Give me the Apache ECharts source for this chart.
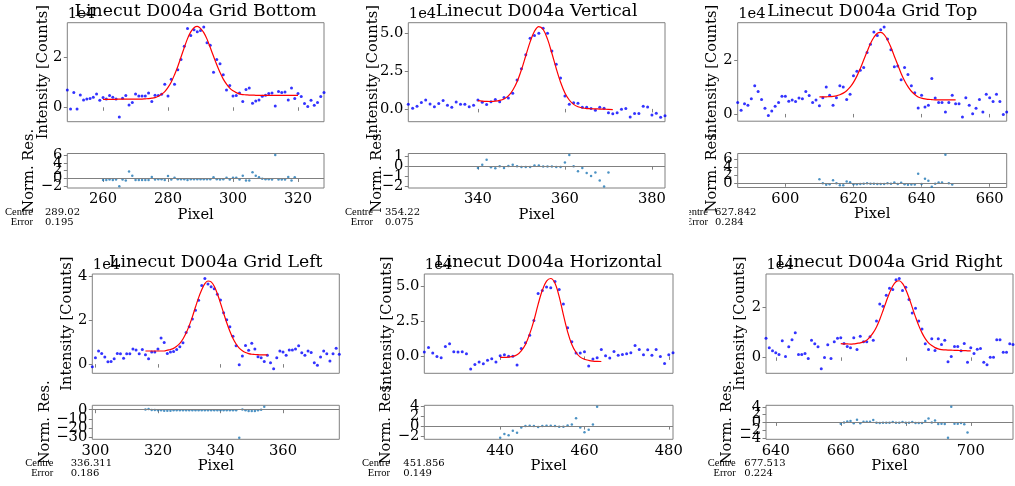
<!DOCTYPE html>
<html><head><meta charset="utf-8">
<script src="https://cdn.jsdelivr.net/npm/echarts@6/dist/echarts.min.js"></script>
<style>html,body{margin:0;padding:0;background:#fff}#c{width:1015px;height:486px}</style>
</head><body><div id="c"></div>
<script>
// ---------------- DATA (intensities in units of 1e4 counts) ----------------
const titles = ['Linecut D004a Grid Bottom','Linecut D004a Vertical','Linecut D004a Grid Top',
                'Linecut D004a Grid Left','Linecut D004a Horizontal','Linecut D004a Grid Right'];
const centres = ['289.02','354.22','627.842','336.311','451.856','677.513'];
const errors  = ['0.195','0.075','0.284','0.186','0.149','0.224'];

// Grid Bottom
const bottomStart = 249;
const bottomData = [0.69,-0.07,0.59,-0.07,0.49,0.29,0.33,0.35,0.40,0.53,0.28,0.39,0.33,0.47,0.40,0.33,-0.39,0.36,0.47,0.09,
 0.19,0.53,0.45,0.45,0.45,0.57,0.23,0.48,0.47,0.52,0.93,0.45,1.13,0.93,1.51,1.92,2.45,3.17,2.89,3.12,
 3.04,3.09,3.23,2.59,2.49,1.41,1.92,1.75,1.31,0.69,0.88,0.45,0.47,0.57,0.23,0.71,0.77,0.16,0.25,0.29,
 0.44,0.48,0.55,0.57,0.05,0.63,0.59,0.61,0.29,0.77,0.35,0.55,0.43,0.15,0.03,0.28,0.08,0.19,0.43,0.59];
const bottomFitStart = 260;
const bottomFit = [0.32,0.32,0.32,0.32,0.32,0.33,0.33,0.33,0.33,0.33,0.33,0.33,0.33,0.34,0.35,
 0.365,0.39,0.44,0.52,0.63,0.80,1.02,1.31,1.64,2.02,2.40,2.76,3.03,3.20,3.25,3.17,3.00,2.74,2.40,2.05,
 1.71,1.40,1.13,0.93,0.77,0.66,0.59,0.54,0.51,0.50,0.49,0.49,0.48,0.48,0.48,0.48,0.48,0.48,0.48,0.48,
 0.48,0.48,0.48,0.48,0.48,0.48];
const bottomResStart = 260;
const bottomRes = [-0.4,-0.4,-0.3,-0.4,-0.3,-2.0,-0.3,-0.5,1.8,0.7,-0.4,-0.4,-0.4,-0.4,-0.4,0.4,-0.3,-0.2,-0.2,-0.4,
 0.6,-0.3,0.2,-0.2,-0.2,-0.2,-0.4,-0.2,-0.2,-0.2,-0.2,-0.2,-0.2,-0.2,0.3,-0.2,-0.3,-0.2,0.2,-0.3,
 0.2,0.2,-0.3,0.7,-0.5,-0.5,1.6,0.7,0.3,-0.1,-0.2,-0.2,-0.3,6.0,-0.3,-0.3,-0.3,0.4,-0.5,0.3];

// Vertical
const vertStart = 324;
const vertData = [0.31,0.04,0.18,0.42,0.59,0.33,0.15,0.35,0.55,0.24,0.11,0.46,0.31,0.31,0.15,0.24,0.59,0.44,0.29,0.48,
 0.62,0.48,0.75,0.73,1.04,1.92,2.67,3.59,4.69,4.87,5.02,5.35,5.02,3.85,2.97,2.05,0.86,0.31,0.40,0.37,
 0.11,0.11,0.02,-0.09,0.11,0.04,-0.26,-0.33,-0.26,-0.02,0.02,-0.53,-0.31,-0.31,0.18,0.13,-0.40,-0.29,-0.55,-0.45];
const vertFitStart = 340;
const vertFit = [0.55,0.52,0.50,0.49,0.51,0.56,0.66,0.86,1.24,1.80,2.59,3.53,4.45,5.15,5.46,5.27,4.63,3.69,2.68,1.77,
 1.06,0.59,0.30,0.14,0.06,0.02,0.01,0.0,-0.01,-0.02,-0.03,-0.05];
const vertResStart = 340;
const vertRes = [-0.17,0.13,0.63,-0.1,-0.2,0,-0.17,0.03,0.13,0,-0.07,-0.07,-0.07,0.07,0.07,-0.03,-0.03,-0.03,-0.07,-0.07,
 0.37,1.1,0,-0.5,-0.17,-0.67,-0.97,-0.63,-1.4,-2.0,-0.63];

// Grid Top
const topStart = 586;
const topData = [0.42,0.14,0.38,0.32,0.56,1.04,0.83,0.53,0.21,-0.06,0.11,0.28,0.42,0.65,0.65,0.47,0.52,0.46,0.59,0.56,
 0.83,0.68,0.42,0.52,0.30,0.60,1.00,0.69,0.32,0.60,1.04,1.00,0.53,0.73,1.41,1.58,1.62,1.72,2.28,2.58,
 3.04,2.91,3.12,3.22,2.78,2.38,1.75,1.78,1.27,1.72,1.46,1.04,0.78,0.22,0.69,0.26,0.32,1.31,0.59,0.42,
 0.42,0.07,0.42,0.69,0.38,0.38,-0.11,0.60,0.32,0.01,0.21,0.53,0.07,0.73,0.60,0.46,0.73,0.46,-0.02,0.07];
const topFitStart = 610;
const topFit = [0.63,0.63,0.635,0.64,0.65,0.67,0.71,0.77,0.86,0.99,1.17,1.40,1.68,2.00,2.31,2.61,2.84,2.99,3.02,2.94,
 2.74,2.47,2.14,1.82,1.50,1.23,1.01,0.84,0.72,0.63,0.585,0.555,0.54,0.53,0.52,0.52,0.52,0.52,0.52,0.52,0.52];
const topResStart = 610;
const topRes = [1.0,0,-0.4,-0.25,0.7,0,-0.5,-0.5,0.4,0.25,-0.25,-0.25,-0.2,-0.1,0,-0.1,-0.1,-0.2,-0.2,-0.2,
 0,-0.1,0.2,-0.2,0.1,-0.25,-0.4,-0.3,-0.3,2.3,-0.2,1.1,0.6,-0.85,-0.1,0.2,0.2,7.0,0,-0.3];

// Grid Left
const leftStart = 299;
const leftData = [-0.12,0.29,0.60,0.49,0.32,0.11,0.12,0.24,0.49,0.47,0.27,0.47,0.47,0.69,0.64,0.47,0.67,0.43,0.24,0.55,
 0.55,0.69,1.19,0.99,0.49,0.55,0.58,0.67,0.79,0.98,1.44,1.71,2.06,2.46,2.92,3.59,3.91,3.66,3.54,3.44,
 3.19,2.93,2.35,2.03,1.71,1.27,0.84,-0.03,0.37,0.85,0.63,0.95,0.69,0.34,0.29,0.12,0.41,0.06,-0.21,0.29,
 0.60,0.55,0.41,0.64,0.64,0.69,0.84,0.52,0.41,0.60,0.53,0.06,-0.05,0.32,0.60,0.47,0.14,0.47,0.73,0.45];
const leftFitStart = 316;
const leftFit = [0.60,0.60,0.60,0.60,0.60,0.60,0.60,0.64,0.67,0.72,0.82,0.95,1.15,1.42,1.76,2.16,2.61,3.04,3.40,3.68,
 3.80,3.76,3.56,3.22,2.79,2.33,1.89,1.50,1.17,0.92,0.73,0.61,0.53,0.48,0.45,0.44,0.43,0.42,0.42,0.42];
const leftResStart = 316;
const leftRes = [0.3,0.7,-0.4,-0.4,-0.7,-0.7,-1.0,-1.0,-1.0,-0.7,-0.7,-0.7,-0.7,-0.7,-0.7,-0.7,-0.7,-0.7,-0.7,-0.7,
 -0.7,-0.7,-0.7,-0.7,-0.7,-0.7,-0.7,-0.7,-0.7,-0.7,-30.5,0.3,-0.7,-1.4,-1.4,-1.4,-0.7,0,3.2];

// Horizontal
const horizStart = 422;
const horizData = [0.31,0.64,0.24,0.0,-0.09,0.71,0.90,0.33,0.31,0.33,0.19,-0.90,-0.57,-0.40,-0.52,-0.28,-0.17,-0.40,0.05,0.12,
 0.02,0.02,-0.61,0.57,0.97,1.51,2.55,4.48,4.69,4.93,4.88,5.33,4.76,3.73,2.03,1.04,0.24,0.24,0.33,-0.68,
 -0.19,-0.09,0.50,0.05,-0.12,0.35,0.09,0.14,0.19,0.26,0.78,0.50,0.12,0.47,0.09,0.50,0.0,-0.50,0.12,0.26];
const horizFitStart = 440;
const horizFit = [-0.07,-0.07,-0.05,0.0,0.12,0.40,0.85,1.60,2.55,3.70,4.70,5.35,5.54,5.20,4.25,2.95,1.75,0.85,0.28,-0.05,
 -0.20,-0.28,-0.33,-0.35,-0.36];
const horizResStart = 440;
const horizRes = [-2.3,-1.55,-1.8,-0.9,-1.3,-0.26,0,0.06,0,-0.2,0,0.06,0.06,0,-0.13,-0.13,0.13,0.32,1.55,-0.26,
 -1.23,-0.71,0.32,3.8];

// Grid Right
const rightStart = 637;
const rightData = [0.76,0.38,0.26,0.18,0.11,0.66,0.03,0.42,0.70,0.99,0.11,0.11,0.15,-0.05,0.68,0.54,0.42,-0.46,-0.01,0.50,
 -0.05,0.62,0.76,0.78,0.55,0.43,0.38,0.78,0.31,0.84,0.62,0.62,0.82,0.68,1.46,2.14,2.05,2.49,2.77,2.72,
 3.11,3.16,2.68,2.81,2.32,1.78,1.97,1.46,1.14,0.54,0.31,0.74,0.27,0.74,0.51,0.68,-0.18,0.03,0.43,0.43,
 0.26,0.55,-0.20,0.38,0.15,0.32,0.35,-0.20,-0.30,0.0,0.0,0.70,0.70,0.20,0.20,0.54,0.51];
const rightFitStart = 660;
const rightFit = [0.55,0.54,0.54,0.53,0.54,0.56,0.58,0.62,0.69,0.82,0.99,1.22,1.52,1.87,2.24,2.58,2.86,3.03,3.07,2.96,
 2.72,2.39,2.00,1.62,1.27,0.98,0.75,0.58,0.47,0.39,0.34,0.31,0.30,0.29,0.29,0.28,0.28,0.27,0.27,0.26,0.26];
const rightResStart = 660;
const rightRes = [-0.34,0,0.25,0.34,-0.25,0.67,-0.25,0.17,0.17,0.17,0.59,-0.08,-0.17,-0.08,-0.08,-0.08,0.08,-0.08,-0.08,0.08,
 -0.08,-0.08,0.08,-0.17,-0.17,-0.17,0.34,1.0,0,0.5,-0.42,-0.34,-0.42,-3.95,4.0,-0.34,-0.34,-0.17,-0.5,-2.6];

// axis limits and tick labels
const xLims   = [[249,328],[324,383],[586,665],[299,378],[422,481],[637,713]];
const yLims   = [[-0.58,3.40],[-0.85,5.72],[-0.27,3.38],[-0.42,4.12],[-1.2,5.86],[-0.64,3.34]];
const rLims   = [[-2.45,6.4],[-2.15,1.25],[-1.05,7.3],[-32.2,4.8],[-2.6,4.1],[-4.35,4.4]];
const xTicks  = [[260,280,300,320],[340,360,380],[600,620,640,660],[300,320,340,360],[440,460,480],[640,660,680,700]];
const yTicks  = [[0,2],[0,2.5,5],[0,2],[0,2,4],[0,2.5,5],[0,2]];
const yDec    = [0,1,0,0,1,0];
const rTicks  = [[-2,0,2,4,6],[-2,-1,0,1],[0,2,4,6],[-30,-20,-10,0],[-2,0,2,4],[-4,-2,0,2,4]];

const sets = [
  [bottomStart,bottomData,bottomFitStart,bottomFit,bottomResStart,bottomRes],
  [vertStart,vertData,vertFitStart,vertFit,vertResStart,vertRes],
  [topStart,topData,topFitStart,topFit,topResStart,topRes],
  [leftStart,leftData,leftFitStart,leftFit,leftResStart,leftRes],
  [horizStart,horizData,horizFitStart,horizFit,horizResStart,horizRes],
  [rightStart,rightData,rightFitStart,rightFit,rightResStart,rightRes]
];

// ---------------- LAYOUT ----------------
const LAY = [
 {left:67.3, width:256.7, top:22.7, h:99,   rtop:153.5, rh:34.5, yl:43,    rl:29,    cl:33,    cv:45,    cy:212,   clip:0},
 {left:408.3,width:256.7, top:22.7, h:99,   rtop:153.5, rh:34.5, yl:373,   rl:377,   cl:373,   cv:385,   cy:212,   clip:0},
 {left:737.7,width:269,   top:22.7, h:98.5, rtop:153.5, rh:34,   yl:712.5, rl:712.5, cl:708,   cv:715,   cy:212,   clip:689},
 {left:92.3, width:247,   top:274,  h:99.3, rtop:405.3, rh:34,   yl:66.7,  rl:45,    cl:53.3,  cv:70.7,  cy:463.3, clip:0},
 {left:424.3,width:248.7, top:274,  h:99.3, rtop:405.3, rh:34,   yl:386.7, rl:386.5, cl:390,   cv:403.3, cy:463.3, clip:0},
 {left:766,  width:247,   top:274,  h:99.3, rtop:405.3, rh:34,   yl:740.5, rl:727.5, cl:735.7, cv:744.3, cy:463.3, clip:0}
];
const FONT = 'DejaVu Serif';
const LABFONT = 'Liberation Serif';
const SPINE = '#808080';
const TFS = 14.7;

function fmt(v, d){ return (d ? v.toFixed(d) : String(v)).replace('-', '\u2212'); }
function pairs(start, arr){ return arr.map((v,i)=>[start+i, v]); }

const grids=[], xAxes=[], yAxes=[], series=[], graphics=[];
LAY.forEach((L, p) => {
  const [ds, d, fs, f, rs, r] = sets[p];
  const gi = grids.length;
  grids.push({left:L.left, top:L.top, width:L.width, height:L.h, show:true, borderColor:SPINE, borderWidth:1, containLabel:false, outerBoundsMode:'none'});
  grids.push({left:L.left, top:L.rtop, width:L.width, height:L.rh, show:true, borderColor:SPINE, borderWidth:1, containLabel:false, outerBoundsMode:'none'});
  const tickStyle = {show:true, inside:false, length:3.5, lineStyle:{color:SPINE, width:1}};
  const lab = {margin:5, fontSize:TFS, fontFamily:FONT, color:'#000', hideOverlap:false, interval:0, showMinLabel:true, showMaxLabel:true};
  [0,1].forEach(k => {
    xAxes.push({type:'value', gridIndex:gi+k, min:xLims[p][0], max:xLims[p][1],
      axisLine:{show:false}, splitLine:{show:false},
      axisTick:Object.assign({customValues:xTicks[p]}, tickStyle),
      axisLabel:Object.assign({}, lab, {show:k===1, customValues:xTicks[p], margin:4, formatter:v=>fmt(v,0)})});
  });
  const yMain = yAxes.length;
  yAxes.push({type:'value', gridIndex:gi, position:'left', min:yLims[p][0], max:yLims[p][1],
    axisLine:{show:false}, splitLine:{show:false},
    axisTick:Object.assign({customValues:yTicks[p]}, tickStyle),
    axisLabel:Object.assign({}, lab, {customValues:yTicks[p], formatter:v=>fmt(v,yDec[p])})});
  // residual axis: one label layer per tick so overlapping labels are all drawn (as in the source)
  const yRes = yAxes.length;
  rTicks[p].forEach((t, j) => {
    yAxes.push({type:'value', gridIndex:gi+1, position:'left', offset:0, min:rLims[p][0], max:rLims[p][1],
      axisLine:{show:false}, splitLine:{show:false},
      axisTick: j===0 ? Object.assign({customValues:rTicks[p]}, tickStyle) : {show:false},
      axisLabel:Object.assign({}, lab, {customValues:[t], formatter:v=>fmt(v,0)})});
  });

  series.push({type:'scatter', xAxisIndex:gi, yAxisIndex:yMain, data:pairs(ds,d), symbol:'circle', symbolSize:3,
    itemStyle:{color:'#0000ff'}, silent:true, z:2});
  series.push({type:'line', xAxisIndex:gi, yAxisIndex:yMain, data:pairs(fs,f), smooth:0.35, showSymbol:false, symbol:'none',
    lineStyle:{color:'#ff0000', width:1.2}, silent:true, z:3});
  series.push({type:'scatter', xAxisIndex:gi+1, yAxisIndex:yRes, data:pairs(rs,r), symbol:'circle', symbolSize:2.5,
    itemStyle:{color:'#1f77b4'}, silent:true, z:3,
    markLine:{silent:true, symbol:'none', label:{show:false}, animation:false,
      lineStyle:{color:'#808080', width:1, type:'solid'}, data:[{yAxis:0}]}});

  const cx = L.left + L.width/2;
  graphics.push({type:'text', x:cx, y:L.top-11.4, z:10, style:{text:titles[p], fontSize:17.3, fontFamily:FONT, fill:'#000', align:'center', verticalAlign:'middle'}});
  graphics.push({type:'text', x:L.left+0.5, y:L.top-8.8, z:9, style:{text:'1e4', fontSize:TFS, fontFamily:FONT, fill:'#000', align:'left', verticalAlign:'middle'}});
  graphics.push({type:'text', x:L.yl, y:L.top+L.h/2, rotation:Math.PI/2, z:10, style:{text:'Intensity [Counts]', fontSize:TFS, fontFamily:FONT, fill:'#000', align:'center', verticalAlign:'middle'}});
  graphics.push({type:'text', x:L.rl, y:L.rtop+L.rh/2, rotation:Math.PI/2, z:10, style:{text:'Norm. Res.', fontSize:TFS, fontFamily:FONT, fill:'#000', align:'center', verticalAlign:'middle'}});
  graphics.push({type:'text', x:cx, y:L.rtop+L.rh+27, z:10, style:{text:'Pixel', fontSize:TFS, fontFamily:FONT, fill:'#000', align:'center', verticalAlign:'middle'}});
  graphics.push({type:'text', x:L.cl, y:L.cy, z:10, style:{text:'Centre', fontSize:10.5, fontFamily:LABFONT, fill:'#000', align:'right', verticalAlign:'middle'}});
  graphics.push({type:'text', x:L.cv, y:L.cy, z:10, style:{text:centres[p], fontSize:10, fontFamily:FONT, fill:'#000', align:'left', verticalAlign:'middle'}});
  graphics.push({type:'text', x:L.cl, y:L.cy+10.4, z:10, style:{text:'Error', fontSize:10.5, fontFamily:LABFONT, fill:'#000', align:'right', verticalAlign:'middle'}});
  graphics.push({type:'text', x:L.cv, y:L.cy+10.4, z:10, style:{text:errors[p], fontSize:10, fontFamily:FONT, fill:'#000', align:'left', verticalAlign:'middle'}});
  if (L.clip) {
    // the source figure's panel edge cuts the start of the "Centre"/"Error" labels
    graphics.push({type:'rect', z:11, shape:{x:L.clip-14, y:L.cy-8, width:14, height:24}, style:{fill:'#fff'}});
  }
});

const chart = echarts.init(document.getElementById('c'), null, {renderer:'canvas'});
chart.setOption({animation:false, backgroundColor:'#fff', grid:grids, xAxis:xAxes, yAxis:yAxes, series:series, graphic:{elements:graphics}});
</script></body></html>
